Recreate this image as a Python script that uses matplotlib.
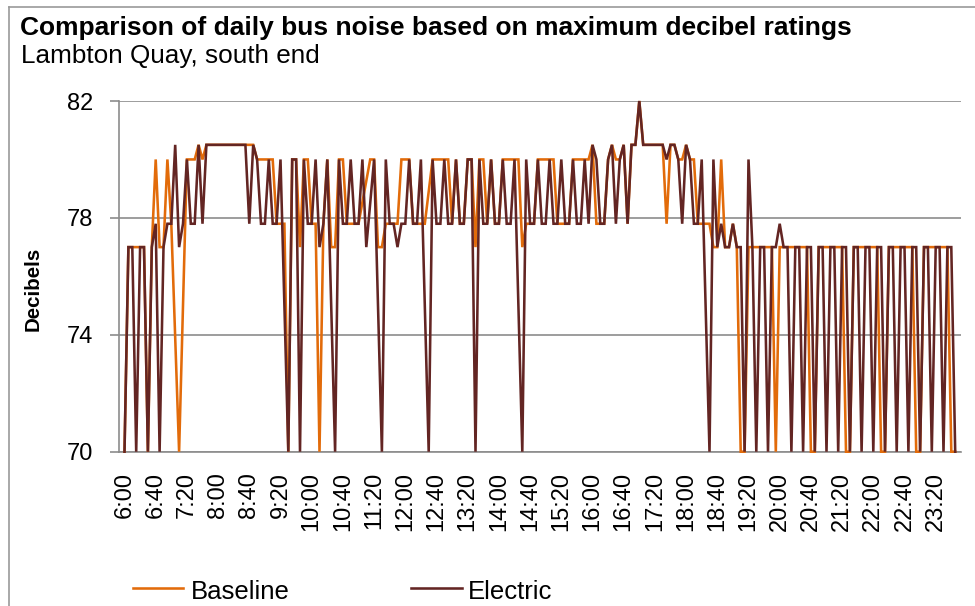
import matplotlib
matplotlib.use("Agg")
import matplotlib.pyplot as plt
from matplotlib.lines import Line2D

plt.rcParams['font.family'] = ['Liberation Sans', 'DejaVu Sans']

# ---------------- data (5-minute readings, 6:00 .. 23:45) ----------------
tick_labels = ["6:00", "6:40", "7:20", "8:00", "8:40", "9:20", "10:00", "10:40",
               "11:20", "12:00", "12:40", "13:20", "14:00", "14:40", "15:20",
               "16:00", "16:40", "17:20", "18:00", "18:40", "19:20", "20:00",
               "20:40", "21:20", "22:00", "22:40", "23:20"]

baseline = [
    70, 77, 77, 77, 77, 77, 70, 77, 80, 77,
    77, 80, 77.8, None, 70, None, 80, 80, 80, 80.5,
    80, 80.5, 80.5, 80.5, 80.5, 80.5, 80.5, 80.5, 80.5, 80.5,
    80.5, 80.5, 80.5, 80.5, 80, 80, 80, 80, 80, 77.8,
    77.8, 77.8, 70, 80, 80, 77, 80, 80, 77.8, 77.8,
    70, 77.8, 80, 77, 77, 80, 80, 77.8, 77.8, 77.8,
    77.8, None, None, 80, 80, 77, 77, 77.8, 77.8, 77.8,
    77.8, 80, 80, 80, 77.8, 77.8, 77.8, 77.8, None, 80,
    80, 80, 80, 80, 77.8, 80, 77.8, 77.8, 80, 80,
    77, 80, 80, 77.8, 80, 77.8, 77.8, 80, 80, 80,
    80, 80, 77, 77.8, 77.8, 77.8, 80, 80, 80, 80,
    80, 77.8, 77.8, 77.8, 77.8, 80, 80, 80, 80, 80,
    80.5, 77.8, 77.8, 77.8, 80, 80.5, 80, 80, 80.5, 77.8,
    80.5, 80.5, 82, 80.5, 80.5, 80.5, 80.5, 80.5, 80.5, 77.8,
    80.5, 80.5, 80, 80, 80.5, 80, 80, 77.8, 77.8, 77.8,
    77.8, 77, 77, 80, 77, 77, 77.8, 77, 70, 70,
    77, 77, 77, 77, 77, 77, 77, 70, 77, 77,
    77, 77, 77, 77, 77, 77, 70, 70, 77, 77,
    77, 77, 77, 77, 77, 70, 70, 77, 77, 77,
    77, 77, 77, 77, 70, 70, 77, 77, 77, 77,
    77, 77, 77, 70, 70, 77, 77, 77, 77, 77,
    77, 77, 70, 70,
]

electric = [
    70, 77, 77, 70, 77, 77, 70, 77, 77.8, 70,
    77, 77.8, 77.8, 80.5, 77, 77.8, 80, 77.8, 77.8, 80.5,
    77.8, 80.5, 80.5, 80.5, 80.5, 80.5, 80.5, 80.5, 80.5, 80.5,
    80.5, 80.5, 77.8, 80.5, 80, 77.8, 77.8, 80, 77.8, 77.8,
    80, None, 70, 80, 80, 70, 80, 77.8, 77.8, 80,
    77, 77.8, 80, None, 70, 80, 77.8, 77.8, 80, 77.8,
    77.8, 80, 77, None, 80, None, 70, 80, 77.8, 77.8,
    77, 77.8, 77.8, 80, 77.8, 77.8, 80, None, 70, 80,
    77.8, 77.8, 80, 77.8, 77.8, 80, 77.8, 77.8, 80, 80,
    70, 80, 77.8, 77.8, 80, 77.8, 77.8, 80, 77.8, 77.8,
    80, None, 70, 80, 77.8, 77.8, 80, 77.8, 77.8, 80,
    77.8, 77.8, 80, 77.8, 77.8, 80, 77.8, 77.8, 80, 77.8,
    80.5, 80, 77.8, 77.8, 80, 80.5, 77.8, 80, 80.5, 77.8,
    80.5, 80.5, 82, 80.5, 80.5, 80.5, 80.5, 80.5, 80.5, 80,
    80.5, 80.5, 80, 77.8, 80.5, 80, 77.8, 77.8, 80, None,
    70, 80, 77, 77.8, 77, 77, 77.8, 77, 77, 70,
    80, 77, 70, 77, 77, 70, 77, 77, 77.8, 77,
    77, 70, 77, 77, 70, 77, 77, 70, 77, 77,
    70, 77, 77, 70, 77, 77, 70, 77, 77, 70,
    77, 77, 70, 77, 77, 70, 77, 77, 70, 77,
    77, 70, 77, 77, 70, 77, 77, 70, 77, 77,
    70, 77, 77, 70,
]

series_names = ["Baseline", "Electric"]
y_ticks = [70, 74, 78, 82]

# ---------------- styling ----------------
W, H, DPI = 975, 606, 100
ORANGE = "#E26B0A"
DARK = "#632523"
GRID = "#8C8C8C"


def fx(px):
    return px / W


def fy(py):
    return 1 - py / H


fig = plt.figure(figsize=(W / DPI, H / DPI), dpi=DPI)
fig.patch.set_facecolor("white")

ax = fig.add_axes([fx(119), fy(451.7), fx(960.5) - fx(119), fy(101) - fy(451.7)])


def valid(vals):
    xs = [i for i, v in enumerate(vals) if v is not None]
    ys = [v for v in vals if v is not None]
    return xs, ys


for vals, col, z in [(baseline, ORANGE, 3), (electric, DARK, 4)]:
    xs, ys = valid(vals)
    ax.plot(xs, ys, color=col, lw=1.85, zorder=z, clip_on=False,
            solid_joinstyle="miter")

n = len(baseline)
step = 3.9
ax.set_xlim(-(124.5 - 119) / step, (n - 1) + (960.5 - 955.2) / step)
ax.set_ylim(70, 82)

ax.set_yticks(y_ticks)
ax.set_yticklabels([str(t) for t in y_ticks])
ax.yaxis.grid(True, color=GRID, lw=1.2, zorder=1)
ax.set_axisbelow(True)

ax.set_xticks(list(range(0, 8 * len(tick_labels), 8)))
ax.set_xticklabels(tick_labels, rotation=90, ha="center", va="top")

for s in ["top", "right"]:
    ax.spines[s].set_visible(False)
for s in ["left", "bottom"]:
    ax.spines[s].set_color(GRID)
    ax.spines[s].set_linewidth(1.2)

ax.tick_params(axis="y", direction="out", length=6.5, width=1.2, color=GRID,
               pad=12, labelsize=17)
ax.tick_params(axis="x", length=0, pad=14.4, labelsize=17)

# titles
fig.text(fx(20), fy(35), "Comparison of daily bus noise based on maximum decibel ratings",
         fontsize=19, fontweight="bold", ha="left", va="baseline")
fig.text(fx(21), fy(63.3), "Lambton Quay, south end",
         fontsize=18.8, ha="left", va="baseline")
fig.text(fx(33), fy(289), "Decibels", rotation=90, fontsize=14.8,
         fontweight="bold", ha="center", va="center")

# chart area border (left and top visible)
fig.add_artist(Line2D([fx(9), fx(9)], [fy(7), 0], color="#9A9A9A", lw=1.2))
fig.add_artist(Line2D([fx(9), 1], [fy(7), fy(7)], color="#9A9A9A", lw=1.2))

# legend
leg_y = fy(587.7)
fig.add_artist(Line2D([fx(133), fx(183)], [leg_y, leg_y], color=ORANGE, lw=1.85))
fig.text(fx(190.7), fy(599.3), series_names[0], fontsize=18.5, ha="left", va="baseline")
fig.add_artist(Line2D([fx(410.7), fx(461.7)], [leg_y, leg_y], color=DARK, lw=1.85))
fig.text(fx(468), fy(599.3), series_names[1], fontsize=18.5, ha="left", va="baseline")

fig.savefig("out.png", dpi=DPI, facecolor="white")
